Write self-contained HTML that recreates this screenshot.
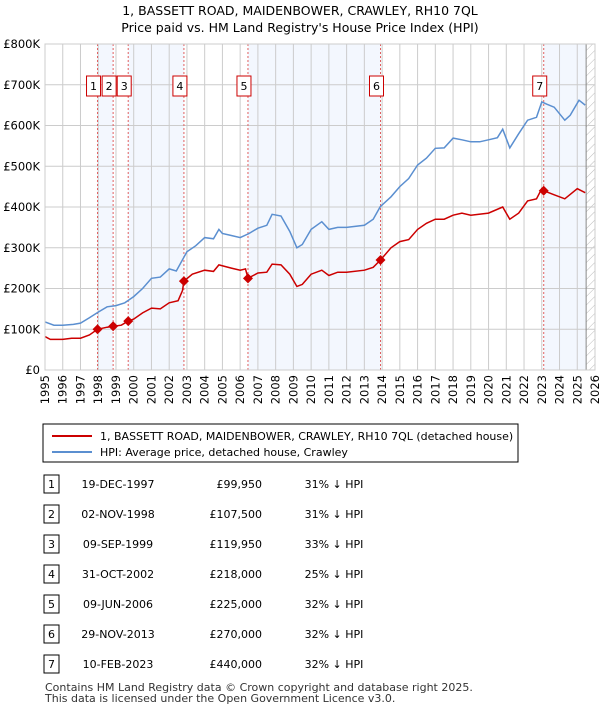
<!DOCTYPE html>
<html><head><meta charset="utf-8"><style>
body{margin:0;background:#fff;font-family:"Liberation Sans","DejaVu Sans",sans-serif;}
svg text{font-family:"DejaVu Sans","Liberation Sans",sans-serif;}
</style></head><body>
<svg id="c" width="600" height="710" xmlns="http://www.w3.org/2000/svg">
<defs><pattern id="hatch" width="6" height="6" patternUnits="userSpaceOnUse" patternTransform="rotate(45)"><line x1="0" y1="0" x2="0" y2="6" stroke="#bbb" stroke-width="1"/></pattern></defs>
<text x="300" y="15" text-anchor="middle" font-size="12.5">1, BASSETT ROAD, MAIDENBOWER, CRAWLEY, RH10 7QL</text>
<text x="300" y="32" text-anchor="middle" font-size="12.5">Price paid vs. HM Land Registry's House Price Index (HPI)</text>
<g id="plot"></g>
<rect x="43" y="424" width="475" height="38" fill="#fff" stroke="#000" stroke-width="1"/>
<line x1="52" y1="436" x2="92" y2="436" stroke="#cc0000" stroke-width="2"/>
<text x="100" y="440" font-size="11">1, BASSETT ROAD, MAIDENBOWER, CRAWLEY, RH10 7QL (detached house)</text>
<line x1="52" y1="452" x2="92" y2="452" stroke="#5b8fd0" stroke-width="2"/>
<text x="100" y="456" font-size="11">HPI: Average price, detached house, Crawley</text>
<g id="table"></g>
<text x="45" y="691" font-size="11" fill="#333">Contains HM Land Registry data © Crown copyright and database right 2025.</text>
<text x="45" y="702" font-size="11" fill="#333">This data is licensed under the Open Government Licence v3.0.</text>
</svg>
<script>
const hpiYears=[1995,1995.5,1996,1996.6,1997,1997.5,1998,1998.5,1999,1999.5,2000,2000.5,2001,2001.5,2002,2002.4,2003,2003.5,2004,2004.5,2004.8,2005,2005.5,2006,2006.5,2007,2007.5,2007.8,2008.3,2008.8,2009.2,2009.5,2010,2010.6,2011,2011.5,2012,2013,2013.5,2013.9,2014.5,2015,2015.5,2016,2016.5,2017,2017.5,2018,2018.5,2019,2019.5,2020,2020.5,2020.8,2021.2,2021.7,2022.2,2022.7,2023,2023.3,2023.7,2024.3,2024.6,2025.1,2025.45];
const hpiValues=[118,110,110,112,115,128,142,155,158,165,180,200,225,228,248,243,290,305,325,322,345,335,330,325,335,348,355,382,378,340,300,308,345,364,345,350,350,355,370,401,425,450,470,503,520,544,545,569,565,560,560,565,570,591,545,580,613,620,658,652,645,613,625,662,650];
const priceYears=[1995,1995.3,1996,1996.5,1997,1997.5,1997.96,1998.5,1998.84,1999.3,1999.69,2000,2000.5,2001,2001.5,2002,2002.5,2002.75,2002.83,2003.3,2004,2004.5,2004.8,2005.5,2006,2006.3,2006.44,2007,2007.5,2007.8,2008.3,2008.8,2009.2,2009.5,2010,2010.6,2011,2011.5,2012,2013,2013.5,2013.91,2014.5,2015,2015.5,2016,2016.5,2017,2017.5,2018,2018.5,2019,2020,2020.8,2021.2,2021.7,2022.2,2022.7,2023,2023.11,2023.7,2024.3,2025,2025.45];
const priceValues=[82,75,75,78,78,86,100,105,107.5,110,120,125,140,152,150,165,170,195,218,235,245,242,258,250,245,248,225,238,240,260,258,235,205,210,235,245,232,240,240,245,252,270,300,315,320,345,360,370,370,380,385,380,385,400,370,385,415,420,445,440,430,420,445,435];
const saleLabels=["1","2","3","4","5","6","7"];
const saleYears=[1997.96,1998.84,1999.69,2002.83,2006.44,2013.91,2023.11];
const salePrices=[99.95,107.5,119.95,218,225,270,440];
const saleDates=["19-DEC-1997","02-NOV-1998","09-SEP-1999","31-OCT-2002","09-JUN-2006","29-NOV-2013","10-FEB-2023"];
const salePriceText=["£99,950","£107,500","£119,950","£218,000","£225,000","£270,000","£440,000"];
const saleHpiText=["31% ↓ HPI","31% ↓ HPI","33% ↓ HPI","25% ↓ HPI","32% ↓ HPI","32% ↓ HPI","32% ↓ HPI"];
const yTicks=[0,100,200,300,400,500,600,700,800];
const yTickLabels=["£0","£100K","£200K","£300K","£400K","£500K","£600K","£700K","£800K"];
const xStart=1995,xEnd=2026,dataEnd=2025.5;

const X0=45,X1=595,Y0=370,Y1=44;
const xs=y=>X0+(y-xStart)/(xEnd-xStart)*(X1-X0);
const ys=v=>Y0-v/800*(Y0-Y1);
const NS="http://www.w3.org/2000/svg";
const plot=document.getElementById('plot');
function mk(tag,attrs,parent){const e=document.createElementNS(NS,tag);for(const k in attrs)e.setAttribute(k,attrs[k]);(parent||plot).appendChild(e);return e;}
// shaded bands
const bandStarts=[0,2,4,6];
bandStarts.forEach(i=>{const a=saleYears[i];const b=i+1<saleYears.length?saleYears[i+1]:dataEnd;
 const r=mk('rect',{x:xs(a),y:Y1,width:xs(b)-xs(a),height:Y0-Y1,fill:'#eef3fd',opacity:0.7});
 
 });
// hatch
const h=mk('rect',{x:xs(dataEnd),y:Y1,width:X1-xs(dataEnd),height:Y0-Y1,fill:'url(#hatch)'});


// grid
for(let yr=xStart;yr<=xEnd;yr++){const l=mk('line',{x1:xs(yr),x2:xs(yr),y1:Y1,y2:Y0,stroke:'#ccc','stroke-width':1});
 
 
 const t=mk('text',{x:0,y:0,'font-size':11.5,'text-anchor':'end',transform:`translate(${xs(yr)+4},375) rotate(-90)`});t.textContent=yr;
 
 }
yTicks.forEach((v,i)=>{const l=mk('line',{x1:X0,x2:X1,y1:ys(v),y2:ys(v),stroke:'#ccc','stroke-width':1});
 
 
 const t=mk('text',{x:40,y:ys(v)+4,'font-size':11.5,'text-anchor':'end'});t.textContent=yTickLabels[i];
 
 });
const ed=mk('line',{x1:xs(dataEnd),x2:xs(dataEnd),y1:Y1,y2:Y0,stroke:'#888','stroke-width':1});


// sale vlines
saleYears.forEach(y=>{const l=mk('line',{x1:xs(y),x2:xs(y),y1:Y1,y2:Y0,stroke:'#e06060','stroke-width':1,'stroke-dasharray':'2,2'});
 
 });
// series
const pth=(xa,va)=>xa.map((y,i)=>(i?'L':'M')+xs(y).toFixed(1)+','+ys(va[i]).toFixed(1)).join('');
const hp=mk('path',{d:pth(hpiYears,hpiValues),fill:'none',stroke:'#5b8fd0','stroke-width':1.5});


const pp=mk('path',{d:pth(priceYears,priceValues),fill:'none',stroke:'#cc0000','stroke-width':1.5});


saleYears.forEach((y,i)=>{const cx=xs(y),cy=ys(salePrices[i]);
 const d=mk('path',{d:`M${cx},${cy-5}L${cx+5},${cy}L${cx},${cy+5}L${cx-5},${cy}Z`,fill:'#cc0000'});
 
 
 const r=mk('rect',{x:cx-11,y:76,width:14,height:20,fill:'#fff',stroke:'#cc0000','stroke-width':1});
 
 
 const t=mk('text',{x:cx-4,y:90,'font-size':11,'text-anchor':'middle'});t.textContent=saleLabels[i];
 
 });
const fr=mk('rect',{x:X0,y:Y1,width:X1-X0,height:Y0-Y1,fill:'none',stroke:'#ccc','stroke-width':1});


// table
const tb=document.getElementById('table');
saleLabels.forEach((s,i)=>{const yy=484+i*30;
 const r=mk('rect',{x:44,y:yy-9,width:15,height:18,fill:'#fff',stroke:'#000','stroke-width':1},tb);
 
 
 const cells=[[51.5,s,'middle'],[118,saleDates[i],'middle'],[262,salePriceText[i],'end'],[334,saleHpiText[i],'middle']];
 cells.forEach(c=>{const t=mk('text',{x:c[0],y:yy+4,'font-size':11,'text-anchor':c[2]},tb);t.textContent=c[1];
  
  });});
</script>
</body></html>
